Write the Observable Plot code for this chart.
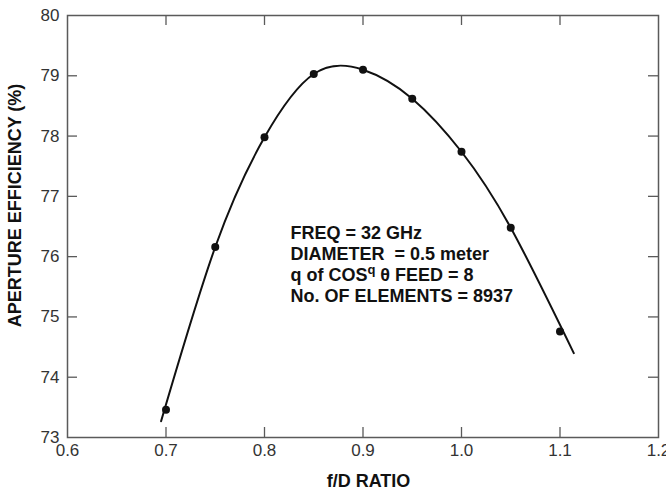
<!DOCTYPE html>
<html>
<head>
<meta charset="utf-8">
<script src="https://cdn.jsdelivr.net/npm/d3@7"></script>
<script src="https://cdn.jsdelivr.net/npm/@observablehq/plot@0.6"></script>
<style>
  html, body { margin: 0; padding: 0; background: #fff; }
  #chart svg { display: block; }
</style>
</head>
<body>
<div id="chart"></div>
<script>
// Measured points (f/D ratio, aperture efficiency %)
const fdRatio    = [0.70, 0.75, 0.80, 0.85, 0.90, 0.95, 1.00, 1.05, 1.10];
const efficiency = [73.46, 76.16, 77.98, 79.03, 79.10, 78.62, 77.74, 76.48, 74.76];

// Fitted curve (extends slightly past the end points)
const fitX = [0.695, 0.75, 0.80, 0.85, 0.90, 0.95, 1.00, 1.05, 1.114];
const fitY = [73.27, 76.16, 77.98, 79.03, 79.10, 78.62, 77.74, 76.48, 74.40];

const xTicks = [0.6, 0.7, 0.8, 0.9, 1.0, 1.1, 1.2];
const yTicks = [73, 74, 75, 76, 77, 78, 79, 80];
const xInner = [0.7, 0.8, 0.9, 1.0, 1.1];
const yInner = [74, 75, 76, 77, 78, 79];

const xTitle = "f/D RATIO";
const yTitle = "APERTURE EFFICIENCY (%)";
const noteLines = [
  "FREQ = 32 GHz",
  "DIAMETER  = 0.5 meter",
  "q of COS\u2009\u03B8 FEED = 8",
  "No. OF ELEMENTS = 8937"
];

const points = fdRatio.map((x, i) => ({x, y: efficiency[i]}));
const fit = fitX.map((x, i) => ({x, y: fitY[i]}));

const W = 666, H = 489;
const mL = 67, mR = 8, mT = 15, mB = 52;
const plotW = W - mL - mR, plotH = H - mT - mB;
const tickLen = 10;
const frameColor = "#5a5a5a";

const chart = Plot.plot({
  width: W,
  height: H,
  marginLeft: mL,
  marginRight: mR,
  marginTop: mT,
  marginBottom: mB,
  style: {fontFamily: "'Liberation Sans', Arial, Helvetica, sans-serif", background: "#fff"},
  x: {domain: [0.6, 1.2]},
  y: {domain: [73, 80]},
  marks: [
    Plot.axisX(xTicks, {tickSize: 0, tickPadding: 6, tickFormat: d3.format(".1f"), fontSize: 17, fill: "#333", label: null}),
    Plot.axisY(yTicks, {tickSize: 0, tickPadding: 8, tickFormat: d3.format("d"), fontSize: 17, fill: "#333", label: null}),
    // inward ticks on all four sides
    Plot.tickX(xInner, {x: d => d, insetTop: plotH - tickLen, stroke: frameColor, strokeWidth: 1.3}),
    Plot.tickX(xInner, {x: d => d, insetBottom: plotH - tickLen, stroke: frameColor, strokeWidth: 1.3}),
    Plot.tickY(yInner, {y: d => d, insetRight: plotW - tickLen, stroke: frameColor, strokeWidth: 1.3}),
    Plot.tickY(yInner, {y: d => d, insetLeft: plotW - tickLen, stroke: frameColor, strokeWidth: 1.3}),
    Plot.frame({stroke: frameColor, strokeWidth: 1.5}),
    Plot.line(fit, {x: "x", y: "y", curve: "natural", stroke: "#111", strokeWidth: 2}),
    Plot.dot(points, {x: "x", y: "y", r: 4, fill: "#111", stroke: "none"}),
    Plot.text([noteLines.join("\n")], {
      x: 0.8263, y: 76.55, text: d => d, textAnchor: "start", lineAnchor: "top",
      lineHeight: 1.18, fontSize: 18, fontWeight: "bold", fill: "#111"
    }),
    Plot.text([xTitle], {frameAnchor: "bottom", dx: 5.5, dy: 49, lineAnchor: "bottom", textAnchor: "middle",
      fontSize: 18, fontWeight: "bold", fill: "#111"}),
    Plot.text([yTitle], {frameAnchor: "left", rotate: -90, dx: -52, dy: -21, lineAnchor: "middle", textAnchor: "middle",
      fontSize: 18, fontWeight: "bold", fill: "#111"})
  ]
});

// Superscript "q" in "COS^q θ"
d3.select(chart).selectAll("tspan").each(function () {
  const t = this.textContent;
  if (t.startsWith("q of COS")) {
    const sel = d3.select(this);
    sel.text("q of COS");
    sel.append("tspan").attr("font-size", 13).attr("dy", -7).text("q");
    sel.append("tspan").attr("font-size", 18).attr("dy", 7).text("\u00A0\u03B8 FEED = 8");
  }
});

document.getElementById("chart").appendChild(chart);
</script>
</body>
</html>
